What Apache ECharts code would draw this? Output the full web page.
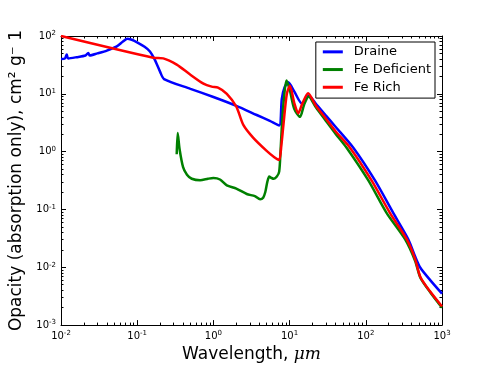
<!DOCTYPE html>
<html>
<head>
<meta charset="utf-8">
<script src="https://cdn.jsdelivr.net/npm/echarts@6/dist/echarts.min.js"></script>
<style>
  html, body { margin: 0; padding: 0; background: #fff; }
  #chart { width: 491px; height: 368px; }
</style>
</head>
<body>
<div id="chart"></div>
<script>
// wavelength (um) / opacity (cm^2 g^-1)
const draineX = [0.01, 0.0113, 0.0119, 0.0124, 0.016, 0.021, 0.0228, 0.0238, 0.03, 0.04, 0.054, 0.065, 0.074, 0.085, 0.101, 0.125, 0.147, 0.17, 0.2, 0.225, 0.5, 1.0, 2.0, 3.7, 5.5, 7.3, 7.9, 8.6, 9.6, 11.5, 14.5, 17.8, 22, 30, 40, 68.6, 132, 230, 361, 443, 520, 700, 1000]
const draineY = [40, 41, 48, 41, 43, 46, 51, 46, 50, 56, 66, 80, 90, 86, 77, 65, 54, 39, 24, 18, 12.2, 8.8, 6.2, 4.3, 3.4, 2.84, 8.2, 13, 15.8, 11, 6.8, 9.3, 6.8, 4.2, 2.7, 1.17, 0.318, 0.0865, 0.0306, 0.0155, 0.0098, 0.006, 0.0035]

const fedefX = [0.33, 0.34, 0.36, 0.40, 0.45, 0.52, 0.67, 0.85, 1.0, 1.22, 1.5, 2.0, 2.74, 3.5, 4.1, 4.5, 4.8, 5.1, 5.4, 5.8, 6.2, 6.8, 7.3, 7.6, 8.0, 8.6, 9.1, 10, 11.5, 13.7, 15.5, 17.8, 22, 30, 40, 56, 108, 188, 327, 443, 520, 700, 1000]
const fedefY = [0.9, 2.1, 1.1, 0.54, 0.40, 0.34, 0.32, 0.34, 0.35, 0.33, 0.26, 0.23, 0.185, 0.17, 0.15, 0.16, 0.2, 0.3, 0.37, 0.35, 0.34, 0.37, 0.45, 1.0, 3.5, 11, 17, 12, 5.5, 4.0, 6.5, 9.0, 5.9, 3.4, 2.05, 1.17, 0.318, 0.0865, 0.0306, 0.013, 0.0066, 0.0037, 0.002]

const ferichX = [0.01, 0.163, 0.22, 0.33, 0.49, 0.74, 0.95, 1.15, 1.5, 2.0, 2.47, 3.34, 5.0, 6.3, 7.3, 7.8, 8.3, 9.2, 10.1, 11.5, 13, 14.5, 17.5, 22, 30, 40, 62, 119, 208, 344, 443, 520, 700, 1000]
const ferichY = [100, 42, 41, 32, 21.8, 15, 13.3, 12.8, 10, 6.0, 2.9, 1.73, 1.03, 0.8, 0.72, 1.3, 2.9, 10, 13.8, 7, 4.6, 6.5, 10.2, 6.3, 3.7, 2.25, 1.17, 0.318, 0.0865, 0.0306, 0.014, 0.0068, 0.0038, 0.0021]

const seriesNames = ['Draine', 'Fe Deficient', 'Fe Rich']
const seriesColors = ['#0000ff', '#008000', '#ff0000']

function zip (xs, ys) {
  return xs.map((x, i) => [x, ys[i]])
}

// 2..9 x 10^k between two decades, for the small ticks
function minorValues (lo, hi) {
  const out = []
  for (let e = lo; e < hi; e++) {
    for (let m = 2; m <= 9; m++) out.push(m * Math.pow(10, e))
  }
  return out
}

function powLabel (v) {
  const e = Math.round(Math.log10(v))
  return '{b|10}{s|' + e + '}'
}

const font = 'DejaVu Sans'
const labelRich = {
  b: { fontFamily: font, fontSize: 10, color: '#000' },
  s: { fontFamily: font, fontSize: 7, color: '#000', verticalAlign: 'top', padding: [0, 0, 5, 0] }
}

function logAxis (pos, min, max, showLabel) {
  return {
    type: 'log',
    logBase: 10,
    position: pos,
    min: min,
    max: max,
    axisLine: { show: true, onZero: false, lineStyle: { color: '#000', width: 1 } },
    axisTick: { show: true, inside: true, length: 5, lineStyle: { color: '#000' } },
    splitLine: { show: false },
    axisLabel: {
      show: showLabel,
      formatter: powLabel,
      rich: labelRich,
      margin: 5
    }
  }
}

function minorAxis (pos, min, max, lo, hi) {
  return {
    type: 'log',
    logBase: 10,
    position: pos,
    min: min,
    max: max,
    axisLine: { show: false, onZero: false },
    axisTick: { show: true, inside: true, length: 2.5, customValues: minorValues(lo, hi), lineStyle: { color: '#000' } },
    splitLine: { show: false },
    axisLabel: { show: false }
  }
}

const chart = echarts.init(document.getElementById('chart'))

const xMain = logAxis('bottom', 0.01, 1000, true)
xMain.name = '{n|Wavelength, }{m|μm}'
xMain.nameLocation = 'middle'
xMain.nameGap = 16
xMain.nameTextStyle = {
  rich: {
    n: { fontFamily: font, fontSize: 17, color: '#000' },
    m: { fontFamily: 'DejaVu Serif', fontStyle: 'italic', fontSize: 17, color: '#000' }
  }
}

const yMain = logAxis('left', 0.001, 100, true)
yMain.name = 'Opacity (absorption only), cm² g⁻ 1'
yMain.nameLocation = 'middle'
yMain.nameGap = 28
yMain.nameTextStyle = { fontFamily: font, fontSize: 17, color: '#000' }

const allData = [zip(draineX, draineY), zip(fedefX, fedefY), zip(ferichX, ferichY)]

chart.setOption({
  animation: false,
  backgroundColor: '#fff',
  grid: { left: 61, right: 49, top: 36, bottom: 37, containLabel: false },
  legend: {
    orient: 'vertical',
    right: 56,
    top: 42,
    padding: [1, 4, 2, 7],
    backgroundColor: '#fff',
    borderColor: '#000',
    borderWidth: 1,
    borderRadius: 0,
    icon: 'rect',
    itemWidth: 20,
    itemHeight: 3,
    itemGap: 0,
    textStyle: { fontFamily: font, fontSize: 13, color: '#000', lineHeight: 17.7, padding: [0, 0, 0, 6] },
    data: seriesNames
  },
  xAxis: [
    xMain,
    logAxis('top', 0.01, 1000, false),
    minorAxis('bottom', 0.01, 1000, -2, 3),
    minorAxis('top', 0.01, 1000, -2, 3)
  ],
  yAxis: [
    yMain,
    logAxis('right', 0.001, 100, false),
    minorAxis('left', 0.001, 100, -3, 2),
    minorAxis('right', 0.001, 100, -3, 2)
  ],
  series: seriesNames.map((name, i) => ({
    name: name,
    type: 'line',
    data: allData[i],
    showSymbol: false,
    smooth: 0.25,
    lineStyle: { color: seriesColors[i], width: 2.5 },
    itemStyle: { color: seriesColors[i] },
    z: 2 + i
  }))
})
</script>
</body>
</html>
